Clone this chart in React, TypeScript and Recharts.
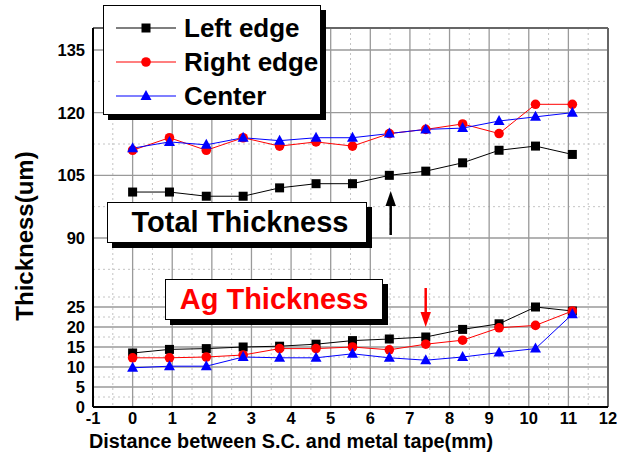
import {
  LineChart,
  Line,
  XAxis,
  YAxis,
  CartesianGrid,
  Legend,
  Label,
  ReferenceLine,
} from "recharts"

// distance (mm) of each measurement point
const distance = [0, 0.93, 1.86, 2.79, 3.71, 4.63, 5.55, 6.48, 7.4, 8.33, 9.25, 10.17, 11.1]

// total thickness (um)
const leftTotal = [101, 101, 100, 100, 102, 103, 103, 105, 106, 108, 111, 112, 110]
const rightTotal = [111, 114, 111, 114, 112, 113, 112, 115, 116, 117.3, 115, 122, 122]
const centerTotal = [111.5, 113, 112.3, 114, 113.3, 114, 114, 115, 116, 116.3, 118, 119, 120]

// Ag thickness (um)
const leftAg = [13.5, 14.4, 14.6, 15, 15.2, 15.7, 16.6, 17, 17.5, 19.4, 20.8, 25, 24]
const rightAg = [12.3, 12.3, 12.5, 13, 14.6, 14.6, 15, 14.3, 15.7, 16.7, 19.8, 20.4, 24]
const centerAg = [9.8, 10.2, 10.2, 12.5, 12.3, 12.3, 13.3, 12.3, 11.7, 12.5, 13.6, 14.6, 23.2]

const xTicks = [-1, 0, 1, 2, 3, 4, 5, 6, 7, 8, 9, 10, 11, 12]
const xMinor = [-0.5, 0.5, 1.5, 2.5, 3.5, 4.5, 5.5, 6.5, 7.5, 8.5, 9.5, 10.5, 11.5]
const lowerTicks = [0, 5, 10, 15, 20, 25]
const upperTicks = [90, 105, 120, 135]
const lowerMinor = [2.5, 7.5, 12.5, 17.5, 22.5, 27.5]
const upperMinor = [82.5, 97.5, 112.5, 127.5]

const legendOrder = ["leftTotal", "rightTotal", "centerTotal"]

// broken y axis: 0-25 below, 90-140 above
const AXIS_TOP = 379
const toAxis = (v: number) => (v <= 50 ? v * 4 : 169 + ((v - 90) * 188) / 45)

const FONT = '"Liberation Sans", Arial, sans-serif'

const data = distance.map((x, i) => ({
  x,
  leftTotal: toAxis(leftTotal[i]),
  rightTotal: toAxis(rightTotal[i]),
  centerTotal: toAxis(centerTotal[i]),
  leftAg: toAxis(leftAg[i]),
  rightAg: toAxis(rightAg[i]),
  centerAg: toAxis(centerAg[i]),
}))

const tickLabel = (v: number) => {
  const all = [...lowerTicks, ...upperTicks]
  const hit = all.find((t) => Math.abs(toAxis(t) - v) < 0.01)
  return hit === undefined ? "" : String(hit)
}

function Marker({ kind, cx, cy }: { kind: string; cx: number; cy: number }) {
  if (kind === "square") return <rect x={cx - 4.5} y={cy - 4.5} width={9} height={9} fill="#000" />
  if (kind === "circle") return <circle cx={cx} cy={cy} r={4.8} fill="#ff0000" />
  return <polygon points={`${cx},${cy - 6} ${cx + 5.5},${cy + 4} ${cx - 5.5},${cy + 4}`} fill="#0000ff" />
}

const dotOf = (kind: string) => (props: any) => {
  if (props.cx == null || props.cy == null) return <g key={props.index} />
  return <Marker key={props.index} kind={kind} cx={props.cx} cy={props.cy} />
}

const markerKind: Record<string, string> = {
  leftTotal: "square",
  rightTotal: "circle",
  centerTotal: "triangle",
}

function LegendBox({ payload }: { payload?: any[] }) {
  const items = (payload || [])
    .filter((p) => p.type !== "none" && legendOrder.includes(p.dataKey))
    .sort((a, b) => legendOrder.indexOf(a.dataKey) - legendOrder.indexOf(b.dataKey))
  return (
    <div
      style={{
        width: 218,
        height: 110,
        boxSizing: "border-box",
        border: "1.5px solid #000",
        background: "#fff",
        boxShadow: "5px 5px 0 #000",
        paddingTop: 5,
        fontFamily: FONT,
      }}
    >
      {items.map((p) => (
        <div key={p.dataKey} style={{ display: "flex", alignItems: "center", height: 34 }}>
          <svg width={80} height={20} style={{ marginLeft: 10 }}>
            <line x1={2} y1={10} x2={62} y2={10} stroke={p.color} strokeWidth={1.2} />
            <Marker kind={markerKind[p.dataKey]} cx={32} cy={10} />
          </svg>
          <span style={{ fontSize: 26, fontWeight: 700, color: "#000", marginLeft: -10 }}>{p.value}</span>
        </div>
      ))}
    </div>
  )
}

const boxStyle = {
  position: "absolute" as const,
  height: 41,
  boxSizing: "border-box" as const,
  border: "1.5px solid #000",
  background: "#fff",
  boxShadow: "5px 5px 0 #000",
  display: "flex",
  alignItems: "center",
  justifyContent: "center",
  fontSize: 29,
  fontWeight: 700,
  fontFamily: FONT,
}

export default function App() {
  const tick = { fill: "#000", fontSize: 16.5, fontWeight: 700, fontFamily: FONT }
  return (
    <div style={{ position: "absolute", left: 0, top: 0, width: 627, height: 463, background: "#fff" }}>
      <LineChart width={627} height={463} data={data} margin={{ top: 28, right: 19, bottom: 0, left: 0 }}>
        <CartesianGrid
          stroke="#c4c4c4"
          strokeDasharray="2 3"
          horizontalValues={[...lowerMinor, ...upperMinor].map(toAxis)}
          verticalValues={xMinor}
        />
        <CartesianGrid
          stroke="#9a9a9a"
          strokeWidth={1.3}
          horizontalValues={[...lowerTicks, ...upperTicks].map(toAxis)}
          verticalValues={xTicks.slice(1)}
        />
        <ReferenceLine y={AXIS_TOP} stroke="#666" strokeWidth={2} />
        <ReferenceLine x={12} stroke="#666" strokeWidth={2} />
        <XAxis
          type="number"
          dataKey="x"
          domain={[-1, 12]}
          ticks={xTicks}
          interval={0}
          height={56}
          tickLine={false}
          tickSize={4}
          tickMargin={1}
          axisLine={{ stroke: "#000", strokeWidth: 2 }}
          tick={tick}
        >
          <Label
            content={() => (
              <text
                x={89}
                y={448}
                textLength={404}
                lengthAdjust="spacingAndGlyphs"
                fill="#000"
                fontSize={20}
                fontWeight={700}
                fontFamily={FONT}
              >
                Distance between S.C. and metal tape(mm)
              </text>
            )}
          />
        </XAxis>
        <YAxis
          type="number"
          domain={[0, AXIS_TOP]}
          allowDataOverflow
          ticks={[...lowerTicks, ...upperTicks].map(toAxis)}
          interval={0}
          tickFormatter={tickLabel}
          width={93}
          tickLine={false}
          tickMargin={2}
          axisLine={{ stroke: "#000", strokeWidth: 2 }}
          tick={tick}
        >
          <Label
            content={() => (
              <text
                x={33}
                y={236}
                transform="rotate(-90 33 236)"
                textAnchor="middle"
                fill="#000"
                fontSize={24}
                fontWeight={700}
                fontFamily={FONT}
              >
                Thickness(um)
              </text>
            )}
          />
        </YAxis>
        <Legend
          layout="vertical"
          align="center"
          verticalAlign="middle"
          wrapperStyle={{ left: 103, top: 5, width: 230 }}
          content={<LegendBox />}
        />
        <Line dataKey="leftTotal" name="Left edge" stroke="#000" strokeWidth={1} dot={dotOf("square")} isAnimationActive={false} />
        <Line dataKey="rightTotal" name="Right edge" stroke="#ff0000" strokeWidth={1} dot={dotOf("circle")} isAnimationActive={false} />
        <Line dataKey="centerTotal" name="Center" stroke="#0000ff" strokeWidth={1} dot={dotOf("triangle")} isAnimationActive={false} />
        <Line dataKey="leftAg" stroke="#000" strokeWidth={1} dot={dotOf("square")} legendType="none" isAnimationActive={false} />
        <Line dataKey="rightAg" stroke="#ff0000" strokeWidth={1} dot={dotOf("circle")} legendType="none" isAnimationActive={false} />
        <Line dataKey="centerAg" stroke="#0000ff" strokeWidth={1} dot={dotOf("triangle")} legendType="none" isAnimationActive={false} />
      </LineChart>

      <div style={{ ...boxStyle, left: 107, top: 202, width: 260, color: "#000", paddingLeft: 6 }}>Total Thickness</div>
      <div style={{ ...boxStyle, left: 165, top: 279, width: 218, color: "#ff0000" }}>Ag Thickness</div>

      <svg width={627} height={463} style={{ position: "absolute", left: 0, top: 0, pointerEvents: "none" }}>
        <line x1={390.7} y1={202} x2={390.7} y2={235} stroke="#000" strokeWidth={2.5} />
        <polygon points="390.7,191 385.5,206 395.9,206" fill="#000" />
        <line x1={425.7} y1={288} x2={425.7} y2={316} stroke="#ff0000" strokeWidth={2.5} />
        <polygon points="425.7,327 420.5,312 430.9,312" fill="#ff0000" />
      </svg>
    </div>
  )
}
